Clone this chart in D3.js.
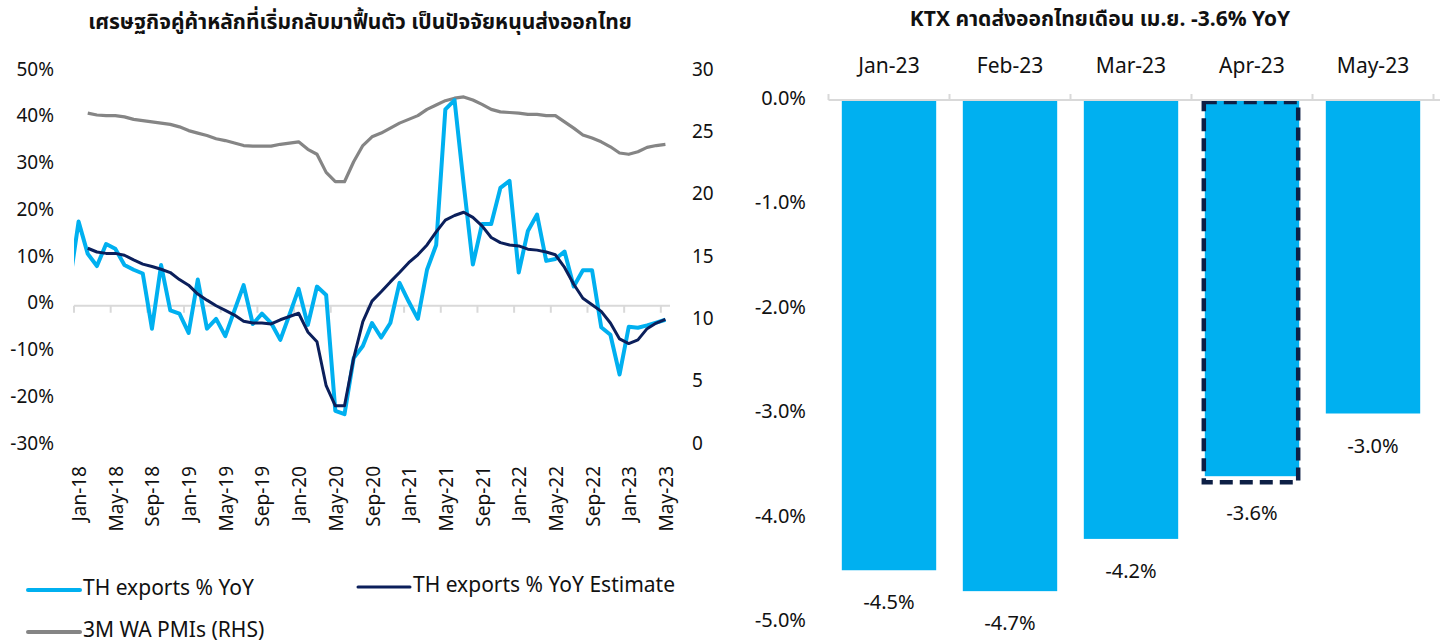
<!DOCTYPE html>
<html>
<head>
<meta charset="utf-8">
<script src="https://cdn.jsdelivr.net/npm/d3@7"></script>
<style>
  body{margin:0;background:#fff;}
  svg text{font-family:"Liberation Sans Narrow","Noto Sans Thai","Noto Sans",sans-serif;fill:#111;}
</style>
</head>
<body>
<div id="stage"></div>
<script>
// months from Dec-17 to May-23 (Dec-17 only feeds the clipped first segment)
var months = d3.timeMonth.range(new Date(2017, 11, 1), new Date(2023, 5, 1));

var thExports = [4.5, 18.0, 11.1, 8.5, 13.2, 12.2, 8.7, 7.7, 6.9, -4.9, 8.7, -1.0, -1.7,
  -5.8, 5.6, -4.9, -2.8, -6.5, -1.0, 4.4, -3.9, -1.7, -3.7, -7.3, -1.9,
  3.6, -4.1, 4.1, 2.3, -22.5, -23.2, -11.2, -8.6, -3.7, -6.8, -3.7, 4.9,
  0.9, -2.8, 7.7, 13.0, 42.0, 44.0, 26.0, 8.8, 17.5, 17.5, 25.2, 26.7,
  7.1, 16.0, 19.5, 9.6, 10.0, 11.6, 4.1, 7.6, 7.6, -4.6, -6.2, -14.7,
  -4.5, -4.7, -4.2, -3.6, -3.0];

var thEstimate = [null, null, 12.3, 11.5, 11.2, 11.2, 10.8, 9.8, 8.9, 8.4, 7.8, 7.1, 5.6,
  4.4, 2.5, 1.2, 0.0, -1.0, -2.0, -3.3, -3.7, -3.7, -3.9, -3.0, -2.3,
  -1.6, -5.6, -7.7, -17.1, -21.4, -21.4, -11.2, -3.4, 1.0, 3.0, 5.1, 7.1,
  9.2, 10.9, 13.0, 15.8, 18.3, 19.3, 20.0, 18.9, 17.1, 14.6, 13.5, 13.0,
  12.8, 12.1, 11.9, 11.5, 10.9, 8.2, 4.6, 1.6, 0.2, -1.2, -3.7, -7.1,
  -8.1, -7.3, -4.9, -3.7, -2.9];

var pmi = [null, null, 26.7, 26.55, 26.5, 26.5, 26.4, 26.2, 26.1, 26.0, 25.9, 25.8, 25.6,
  25.3, 25.1, 24.9, 24.65, 24.5, 24.3, 24.1, 24.05, 24.05, 24.05, 24.2, 24.3,
  24.4, 23.8, 23.4, 21.95, 21.2, 21.2, 22.8, 24.1, 24.8, 25.1, 25.5, 25.9,
  26.2, 26.5, 27.0, 27.35, 27.7, 27.9, 28.0, 27.75, 27.4, 27.0, 26.8, 26.75,
  26.7, 26.6, 26.6, 26.5, 26.5, 26.0, 25.5, 24.95, 24.7, 24.4, 24.0, 23.5,
  23.4, 23.6, 23.95, 24.1, 24.2];

var xTickLabels = ["Jan-18","May-18","Sep-18","Jan-19","May-19","Sep-19","Jan-20","May-20","Sep-20",
  "Jan-21","May-21","Sep-21","Jan-22","May-22","Sep-22","Jan-23","May-23"];
var leftTicks = [50, 40, 30, 20, 10, 0, -10, -20, -30];
var rightTicks = [30, 25, 20, 15, 10, 5, 0];

var barMonths = ["Jan-23","Feb-23","Mar-23","Apr-23","May-23"];
var barValues = [-4.5, -4.7, -4.2, -3.6, -3.0];
var barTicks = [0, -1, -2, -3, -4, -5];
var highlight = "Apr-23";

var blue = "#00B0F0", navy = "#0B1F5B", grey = "#858585", axisGrey = "#D9D9D9";

var svg = d3.select("#stage").append("svg")
  .attr("width", 1440).attr("height", 644);

// ---------- left chart ----------
svg.append("text").attr("x", 360).attr("y", 22)
  .attr("text-anchor", "middle").attr("dominant-baseline", "central")
  .style("font-size", "21px").style("font-weight", "bold")
  .text("เศรษฐกิจคู่ค้าหลักที่เริ่มกลับมาฟื้นตัว เป็นปัจจัยหนุนส่งออกไทย");

var x = d3.scaleLinear().domain([-0.5, 64.5]).range([74, 670]); // 0 = Jan-18
var yL = d3.scaleLinear().domain([-30, 50]).range([446, 72]);
var yR = d3.scaleLinear().domain([0, 30]).range([446, 72]);

svg.append("defs").append("clipPath").attr("id", "plotclip")
  .append("rect").attr("x", 74).attr("y", 40).attr("width", 596).attr("height", 420);

var leftAxis = svg.append("g").attr("transform", "translate(54,0)")
  .call(d3.axisLeft(yL).tickValues(leftTicks).tickSize(0).tickFormat(function(d){ return d + "%"; }));
leftAxis.select(".domain").remove();
leftAxis.selectAll("text").style("font-size", "19px").attr("x", 0).attr("dy", "0.17em");

var rightAxis = svg.append("g").attr("transform", "translate(690,0)")
  .call(d3.axisRight(yR).tickValues(rightTicks).tickSize(0));
rightAxis.select(".domain").remove();
rightAxis.selectAll("text").style("font-size", "19px").attr("x", 2).attr("dy", "0.17em");

// category axis at 0%
svg.append("line").attr("x1", 74).attr("x2", 670).attr("y1", yL(0)).attr("y2", yL(0))
  .attr("stroke", axisGrey).attr("stroke-width", 2);
svg.selectAll(".xtick").data(d3.range(0, 65, 4)).enter().append("line")
  .attr("x1", function(d){ return x(d - 0.5); }).attr("x2", function(d){ return x(d - 0.5); })
  .attr("y1", yL(0)).attr("y2", yL(0) + 7)
  .attr("stroke", axisGrey).attr("stroke-width", 2);

svg.selectAll(".xlab").data(xTickLabels).enter().append("text")
  .attr("transform", function(d, i){ return "translate(" + (x(i * 4) + 2) + ",466) rotate(-90)"; })
  .attr("text-anchor", "end").attr("dominant-baseline", "central")
  .style("font-size", "19px").text(function(d){ return d; });

function series(arr){
  return arr.map(function(v, i){ return {i: i - 1, v: v}; });
}
function drawLine(arr, yScale, colour, w){
  var line = d3.line().defined(function(d){ return d.v !== null; })
    .x(function(d){ return x(d.i); }).y(function(d){ return yScale(d.v); });
  svg.append("path").datum(series(arr)).attr("d", line)
    .attr("clip-path", "url(#plotclip)")
    .attr("fill", "none").attr("stroke", colour).attr("stroke-width", w)
    .attr("stroke-linejoin", "round");
}
drawLine(pmi, yR, grey, 3.2);
drawLine(thExports, yL, blue, 4);
drawLine(thEstimate, yL, navy, 3);

// legend
var legend = [
  {name: "TH exports % YoY", c: blue, x: 28, y: 590, w: 4},
  {name: "TH exports % YoY Estimate", c: navy, x: 358, y: 587, w: 3},
  {name: "3M WA PMIs (RHS)", c: grey, x: 28, y: 632, w: 4}
];
var lg = svg.selectAll(".lg").data(legend).enter().append("g");
lg.append("line").attr("x1", function(d){ return d.x; }).attr("x2", function(d){ return d.x + 52; })
  .attr("y1", function(d){ return d.y; }).attr("y2", function(d){ return d.y; })
  .attr("stroke", function(d){ return d.c; }).attr("stroke-width", function(d){ return d.w; })
  .attr("stroke-linecap", "round");
lg.append("text").attr("x", function(d){ return d.x + 55; }).attr("y", function(d){ return d.y - 2; })
  .attr("dominant-baseline", "central").style("font-size", "21px")
  .text(function(d){ return d.name; });

// ---------- right chart ----------
svg.append("text").attr("x", 1100).attr("y", 19)
  .attr("text-anchor", "middle").attr("dominant-baseline", "central")
  .style("font-size", "21px").style("font-weight", "bold")
  .text("KTX คาดส่งออกไทยเดือน เม.ย. -3.6% YoY");

var xb = d3.scaleBand().domain(barMonths).range([828.5, 1433.5]).paddingInner(0.22).paddingOuter(0.11);
var yb = d3.scaleLinear().domain([-5, 0]).range([622.5, 100]);

var bAxis = svg.append("g").attr("transform", "translate(806,0)")
  .call(d3.axisLeft(yb).tickValues(barTicks).tickSize(0).tickFormat(function(d){ return d3.format(".1f")(d) + "%"; }));
bAxis.select(".domain").remove();
bAxis.selectAll("text").style("font-size", "20px").attr("x", 0).attr("dy", "0.2em");

svg.selectAll(".bar").data(barMonths).enter().append("rect")
  .attr("x", function(d){ return xb(d); }).attr("width", xb.bandwidth())
  .attr("y", yb(0)).attr("height", function(d, i){ return yb(barValues[i]) - yb(0); })
  .attr("fill", blue);

var hi = barMonths.indexOf(highlight);
svg.append("rect").attr("x", xb(highlight) - 1).attr("y", yb(0) + 2)
  .attr("width", xb.bandwidth()).attr("height", yb(barValues[hi]) - yb(0) + 4)
  .attr("fill", "none").attr("stroke", "#0D1F45").attr("stroke-width", 4.5)
  .attr("stroke-dasharray", "13,7");

svg.append("line").attr("x1", 828.5).attr("x2", 1440).attr("y1", yb(0)).attr("y2", yb(0))
  .attr("stroke", axisGrey).attr("stroke-width", 2);
svg.selectAll(".btick").data(d3.range(0, 6)).enter().append("line")
  .attr("x1", function(d){ return 828.5 + d * xb.step(); }).attr("x2", function(d){ return 828.5 + d * xb.step(); })
  .attr("y1", yb(0) - 6).attr("y2", yb(0))
  .attr("stroke", axisGrey).attr("stroke-width", 2);

svg.selectAll(".bcat").data(barMonths).enter().append("text")
  .attr("x", function(d){ return xb(d) + xb.bandwidth() / 2; }).attr("y", 66)
  .attr("text-anchor", "middle").attr("dominant-baseline", "central")
  .style("font-size", "21px").text(function(d){ return d; });

svg.selectAll(".bval").data(barMonths).enter().append("text")
  .attr("x", function(d){ return xb(d) + xb.bandwidth() / 2; })
  .attr("y", function(d, i){ return yb(barValues[i]) + (d === highlight ? 38 : 33); })
  .attr("text-anchor", "middle").attr("dominant-baseline", "central")
  .style("font-size", "20px").text(function(d, i){ return d3.format(".1f")(barValues[i]) + "%"; });
</script>
</body>
</html>
